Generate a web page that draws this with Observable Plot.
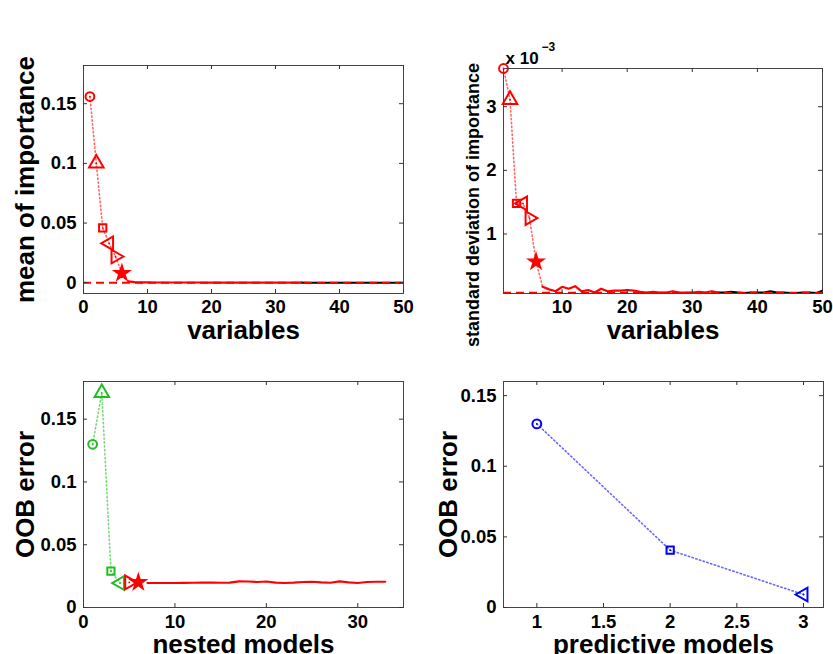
<!DOCTYPE html>
<html>
<head>
<meta charset="utf-8">
<script src="https://cdn.jsdelivr.net/npm/d3@7"></script>
<script src="https://cdn.jsdelivr.net/npm/@observablehq/plot@0.6"></script>
<style>
  body { margin: 0; background: #fff; }
  #wrap { position: relative; width: 833px; height: 654px; overflow: hidden; background: #fff; }
  #wrap > div { position: absolute; }
  svg { overflow: visible; }
</style>
</head>
<body>
<div id="wrap">
  <div id="p1" style="left:0px;top:0px"></div>
  <div id="p2" style="left:420px;top:0px"></div>
  <div id="p3" style="left:0px;top:350px"></div>
  <div id="p4" style="left:420px;top:350px"></div>
</div>
<script>
// ---------------- data ----------------
const variableIndex = [1,2,3,4,5,6,7,8,9,10,11,12,13,14,15,16,17,18,19,20,21,22,23,24,25,26,27,28,29,30,31,32,33,34,35,36,37,38,39,40,41,42,43,44,45,46,47,48,49,50];
const meanImportance = [0.156,0.100,0.046,0.033,0.022,0.008,0.0012,0.0005,0.0003,0.0003,0.0002,0.0002,0.0002,0.0002,0.0002,0.0002,0.0002,0.0002,0.0001,0.0001,0.0001,0.0001,0.0001,0.0001,0.0001,0.0001,0.0001,0.0001,0.0001,0.0001,0.0001,0.0001,0.0001,0.0001,0.0000,0.0000,0.0000,0.0000,0.0000,0.0000,0.0000,0.0000,0.0000,0.0000,0.0000,0.0000,0.0000,0.0000,0.0000,0.0000];
// standard deviation of importance, in units of 10^-3
const sdImportance = [3.60,3.11,1.48,1.48,1.25,0.565,0.17,0.13,0.10,0.17,0.14,0.18,0.10,0.12,0.08,0.14,0.10,0.11,0.11,0.12,0.11,0.09,0.08,0.09,0.08,0.08,0.10,0.08,0.08,0.08,0.09,0.08,0.10,0.08,0.08,0.09,0.08,0.07,0.08,0.08,0.08,0.10,0.08,0.08,0.07,0.07,0.08,0.08,0.07,0.11];
const meanThreshold = [0];
const sdThreshold = [0.075];
const selectedCount = 6;      // variables kept after thresholding (markers)
const redLineEnd = 34;        // red solid line covers variables 7..34, black 34..50

const nestedIndex = [1,2,3,4,5,6,7,8,9,10,11,12,13,14,15,16,17,18,19,20,21,22,23,24,25,26,27,28,29,30,31,32,33];
const nestedOOB = [0.130,0.171,0.029,0.0195,0.020,0.020,0.0195,0.0195,0.0195,0.0195,0.0196,0.0197,0.0198,0.0198,0.0197,0.0198,0.0208,0.0207,0.0203,0.0207,0.0198,0.0195,0.0198,0.0203,0.0205,0.0200,0.0197,0.0208,0.0200,0.0195,0.0203,0.0205,0.0205];
const nestedGreenCount = 4;   // interpretation models (green)

const predictiveIndex = [1,2,3];
const predictiveOOB = [0.130,0.0406,0.0092];

const markerShapes = ["circle","triangle","square","triangleLeft","triangleRight","star"];

const xTicksTop = [0,10,20,30,40,50];
const yTicksMean = [0,0.05,0.1,0.15];
const xTicksSd = [10,20,30,40,50];
const yTicksSd = [1,2,3];
const xTicksNested = [0,10,20,30];
const yTicksOOB = [0,0.05,0.1,0.15];
const xTicksPred = [1,1.5,2,2.5,3];

// ---------------- styling helpers ----------------
const RED = "#ff0000", GREEN = "#1fbf1f", BLUE = "#0000ff";
const FONT = "'Liberation Sans', Arial, Helvetica, sans-serif";

const S3 = Math.sqrt(3);
const triangleLeft = {draw(ctx, size) {
  const s = Math.sqrt(size / (S3 * 3));
  ctx.moveTo(-2 * s, 0); ctx.lineTo(s, -S3 * s); ctx.lineTo(s, S3 * s); ctx.closePath();
}};
const triangleRight = {draw(ctx, size) {
  const s = Math.sqrt(size / (S3 * 3));
  ctx.moveTo(2 * s, 0); ctx.lineTo(-s, -S3 * s); ctx.lineTo(-s, S3 * s); ctx.closePath();
}};
const symbolSpec = {
  circle: {symbol: "circle", r: 4.4},
  triangle: {symbol: "triangle", r: 5.4},
  square: {symbol: "square", r: 4.1},
  triangleLeft: {symbol: triangleLeft, r: 5.1},
  triangleRight: {symbol: triangleRight, r: 5.1},
  star: {symbol: "star", r: 4.4, fill: true}
};

function markers(rows, color) {
  const out = [];
  for (const d of rows) {
    const spec = symbolSpec[d.shape];
    out.push(Plot.dot([d], {x: "x", y: "y", symbol: spec.symbol, r: spec.r,
      stroke: color, strokeWidth: 2, fill: spec.fill ? color : "none"}));
    if (!spec.fill) out.push(Plot.dot([d], {x: "x", y: "y", r: 0.9, fill: color, stroke: "none"}));
  }
  return out;
}
function dotted(rows, color) {
  return Plot.line(rows, {x: "x", y: "y", stroke: color, strokeWidth: 1.6,
    strokeDasharray: "1.3 2.6", strokeOpacity: 0.6, clip: true});
}
function solid(rows, color) {
  return Plot.line(rows, {x: "x", y: "y", stroke: color, strokeWidth: 2.2, clip: true});
}

function panel(id, c) {
  const fw = c.width - c.ml - c.mr, fh = c.height - c.mt - c.mb, T = 4, tk = "#333";
  const chart = Plot.plot({
    width: c.width, height: c.height,
    marginLeft: c.ml, marginRight: c.mr, marginTop: c.mt, marginBottom: c.mb,
    x: {domain: c.xDomain}, y: {domain: c.yDomain},
    style: {fontFamily: FONT, fontWeight: "bold", fontSize: "18px", color: "#000", background: "transparent", overflow: "visible"},
    marks: [
      ...c.marks,
      Plot.frame({stroke: "#444", strokeWidth: 1}),
      Plot.tickX(c.xTicks, {x: d => d, insetTop: fh - T, stroke: tk}),
      Plot.tickX(c.xTicks, {x: d => d, insetBottom: fh - T, stroke: tk}),
      Plot.tickY(c.yTicks, {y: d => d, insetRight: fw - T, stroke: tk}),
      Plot.tickY(c.yTicks, {y: d => d, insetLeft: fw - T, stroke: tk}),
      Plot.axisX(c.xTicks, {tickSize: 0, tickPadding: c.xPad, tickFormat: d => String(d), label: null, fontSize: 18.5, fontWeight: "bold", fill: "#000"}),
      Plot.axisY(c.yTicks, {tickSize: 0, tickPadding: 7, tickFormat: d => String(d), label: null, fontSize: 18.5, fontWeight: "bold", fill: "#000"}),
      Plot.text([c.xLabel], {text: d => d, frameAnchor: "bottom", textAnchor: "middle", lineAnchor: "middle", dy: c.xLabelDy, fontSize: 26, fontWeight: "bold", fill: "#000"}),
      Plot.text([c.yLabel], {text: d => d, frameAnchor: "left", textAnchor: "middle", lineAnchor: "middle", rotate: -90, dx: c.yLabelDx, dy: c.yLabelDy || 0, fontSize: c.yLabelSize, fontWeight: "bold", fill: "#000"}),
      ...(c.extra || [])
    ]
  });
  document.getElementById(id).append(chart);
}

// ---------------- panel 1: mean of importance ----------------
const meanRows = variableIndex.map((x, i) => ({x, y: meanImportance[i]}));
panel("p1", {
  width: 420, height: 350, ml: 83, mr: 17, mt: 65, mb: 57,
  xDomain: [0, 50], yDomain: [-0.009, 0.182],
  xTicks: xTicksTop, yTicks: yTicksMean, xPad: 6, xLabelDy: 37,
  xLabel: "variables", yLabel: "mean of importance", yLabelDx: -58, yLabelSize: 26,
  marks: [
    solid(meanRows.slice(redLineEnd - 1), "#000"),
    solid(meanRows.slice(selectedCount, redLineEnd), RED),
    Plot.ruleY(meanThreshold, {stroke: RED, strokeWidth: 2, strokeDasharray: "8 5"}),
    dotted(meanRows.slice(0, selectedCount + 1), RED),
    ...markers(meanRows.slice(0, selectedCount).map((d, i) => ({...d, shape: markerShapes[i]})), RED)
  ]
});

// ---------------- panel 2: standard deviation of importance ----------------
const sdRows = variableIndex.map((x, i) => ({x, y: sdImportance[i]}));
panel("p2", {
  width: 413, height: 350, ml: 83, mr: 11, mt: 68, mb: 57,
  xDomain: [1, 50], yDomain: [0.065, 3.6],
  xTicks: xTicksSd, yTicks: yTicksSd, xPad: 6, xLabelDy: 37,
  xLabel: "variables", yLabel: "standard deviation of importance", yLabelDx: -30, yLabelDy: 24, yLabelSize: 18,
  marks: [
    solid(sdRows.slice(redLineEnd - 1), "#000"),
    solid(sdRows.slice(selectedCount, redLineEnd), RED),
    Plot.ruleY(sdThreshold, {stroke: RED, strokeWidth: 2, strokeDasharray: "8 5"}),
    dotted(sdRows.slice(0, selectedCount + 1), RED),
    ...markers(sdRows.slice(0, selectedCount).map((d, i) => ({...d, shape: markerShapes[i]})), RED)
  ],
  extra: [
    Plot.text(["x 10"], {text: d => d, frameAnchor: "top-left", dx: 2, dy: -10, textAnchor: "start", lineAnchor: "middle", fontSize: 17, fontWeight: "bold", fill: "#000"}),
    Plot.text(["\u22123"], {text: d => d, frameAnchor: "top-left", dx: 38, dy: -21, textAnchor: "start", lineAnchor: "middle", fontSize: 12, fontWeight: "bold", fill: "#000"})
  ]
});

// ---------------- panel 3: nested models ----------------
const nestedRows = nestedIndex.map((x, i) => ({x, y: nestedOOB[i]}));
panel("p3", {
  width: 420, height: 304, ml: 83, mr: 17, mt: 31, mb: 47,
  xDomain: [0, 35], yDomain: [0, 0.18],
  xTicks: xTicksNested, yTicks: yTicksOOB, xPad: 7, xLabelDy: 37,
  xLabel: "nested models", yLabel: "OOB error", yLabelDx: -58, yLabelSize: 26,
  marks: [
    solid(nestedRows.slice(selectedCount), RED),
    dotted(nestedRows.slice(0, nestedGreenCount), GREEN),
    ...markers(nestedRows.slice(0, nestedGreenCount).map((d, i) => ({...d, shape: markerShapes[i]})), GREEN),
    ...markers(nestedRows.slice(nestedGreenCount, selectedCount).map((d, i) => ({...d, shape: markerShapes[nestedGreenCount + i]})), RED)
  ]
});

// ---------------- panel 4: predictive models ----------------
const predRows = predictiveIndex.map((x, i) => ({x, y: predictiveOOB[i]}));
const predShapes = ["circle","square","triangleLeft"];
panel("p4", {
  width: 413, height: 304, ml: 83, mr: 10, mt: 31, mb: 47,
  xDomain: [0.75, 3.15], yDomain: [0, 0.16],
  xTicks: xTicksPred, yTicks: yTicksOOB, xPad: 7, xLabelDy: 37,
  xLabel: "predictive models", yLabel: "OOB error", yLabelDx: -55, yLabelSize: 26,
  marks: [
    dotted(predRows, BLUE),
    ...markers(predRows.map((d, i) => ({...d, shape: predShapes[i]})), BLUE)
  ]
});
</script>
</body>
</html>
